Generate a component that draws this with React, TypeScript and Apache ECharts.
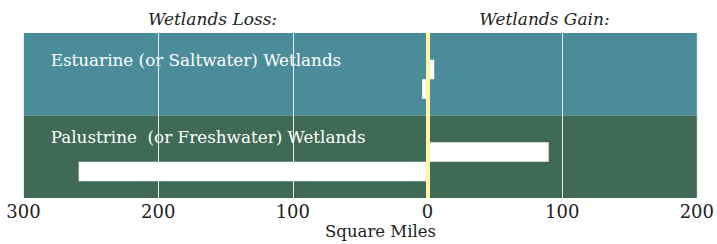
import React, { useEffect, useRef } from "react";
import * as echarts from "echarts";

const categories = ["Estuarine (or Saltwater) Wetlands", "Palustrine  (or Freshwater) Wetlands"];
const gainValues = [5, 90];
const lossValues = [4, 259];
const tickValues = [-300, -200, -100, 0, 100, 200];

const FONT = "DejaVu Serif";

export default function App() {
  const ref = useRef<HTMLDivElement>(null);
  useEffect(() => {
    if (!ref.current) return;
    const chart = echarts.init(ref.current, undefined, { renderer: "svg" });
    chart.setOption({
      animation: false,
      backgroundColor: "#ffffff",
      grid: { left: 23.5, right: 16.5, top: 33, bottom: 46 },
      xAxis: {
        type: "value",
        z: 1,
        min: tickValues[0],
        max: tickValues[tickValues.length - 1],
        interval: 100,
        axisLine: { show: false },
        axisTick: { show: false },
        axisLabel: {
          margin: 4,
          fontFamily: FONT,
          fontSize: 18,
          color: "#222222",
          formatter: (v: number) => String(Math.abs(v)),
        },
        splitLine: { show: true, lineStyle: { color: "#e4ecee", width: 1 } },
      },
      yAxis: {
        type: "category",
        z: 0,
        inverse: true,
        data: categories,
        axisLine: { show: false },
        axisTick: { show: false },
        axisLabel: { show: false },
        splitLine: { show: false },
        splitArea: { show: true, areaStyle: { color: ["#4b8c9b", "#3e6a56"] } },
      },
      series: [
        {
          type: "bar",
          name: "spacer",
          barWidth: 10,
          barGap: 0,
          data: categories.map(() => 0),
          itemStyle: { color: "rgba(0,0,0,0)" },
          silent: true,
        },
        {
          type: "bar",
          name: "Gain",
          barWidth: 19.5,
          barGap: 0,
          data: gainValues,
          itemStyle: { color: "#ffffff" },
        },
        {
          type: "bar",
          name: "Loss",
          barWidth: 19.5,
          barGap: 0,
          data: lossValues.map((v) => -v),
          itemStyle: { color: "#ffffff" },
          markLine: {
            silent: true,
            symbol: "none",
            label: { show: false },
            lineStyle: { color: "#fff5a5", width: 4, type: "solid" },
            data: [{ xAxis: 0 }],
          },
        },
      ],
      graphic: [
        {
          type: "text",
          x: 212.5,
          y: 19,
          style: { text: "Wetlands Loss:", fontFamily: FONT, fontStyle: "italic", fontSize: 17, fill: "#222222", align: "center", verticalAlign: "middle" },
        },
        {
          type: "text",
          x: 544.5,
          y: 19,
          style: { text: "Wetlands Gain:", fontFamily: FONT, fontStyle: "italic", fontSize: 17, fill: "#222222", align: "center", verticalAlign: "middle" },
        },
        {
          type: "text",
          x: 50.7,
          y: 60,
          z: 10,
          style: { text: categories[0], fontFamily: FONT, fontSize: 16.8, fill: "#ffffff", align: "left", verticalAlign: "middle" },
        },
        {
          type: "text",
          x: 50.7,
          y: 137,
          z: 10,
          style: { text: categories[1], fontFamily: FONT, fontSize: 16.8, fill: "#ffffff", align: "left", verticalAlign: "middle" },
        },
        {
          type: "text",
          x: 380.5,
          y: 231.5,
          style: { text: "Square Miles", fontFamily: FONT, fontSize: 16.5, fill: "#222222", align: "center", verticalAlign: "middle" },
        },
      ],
    });
    return () => chart.dispose();
  }, []);
  return <div ref={ref} style={{ position: "fixed", left: 0, top: 0, width: 717, height: 244 }} />;
}
